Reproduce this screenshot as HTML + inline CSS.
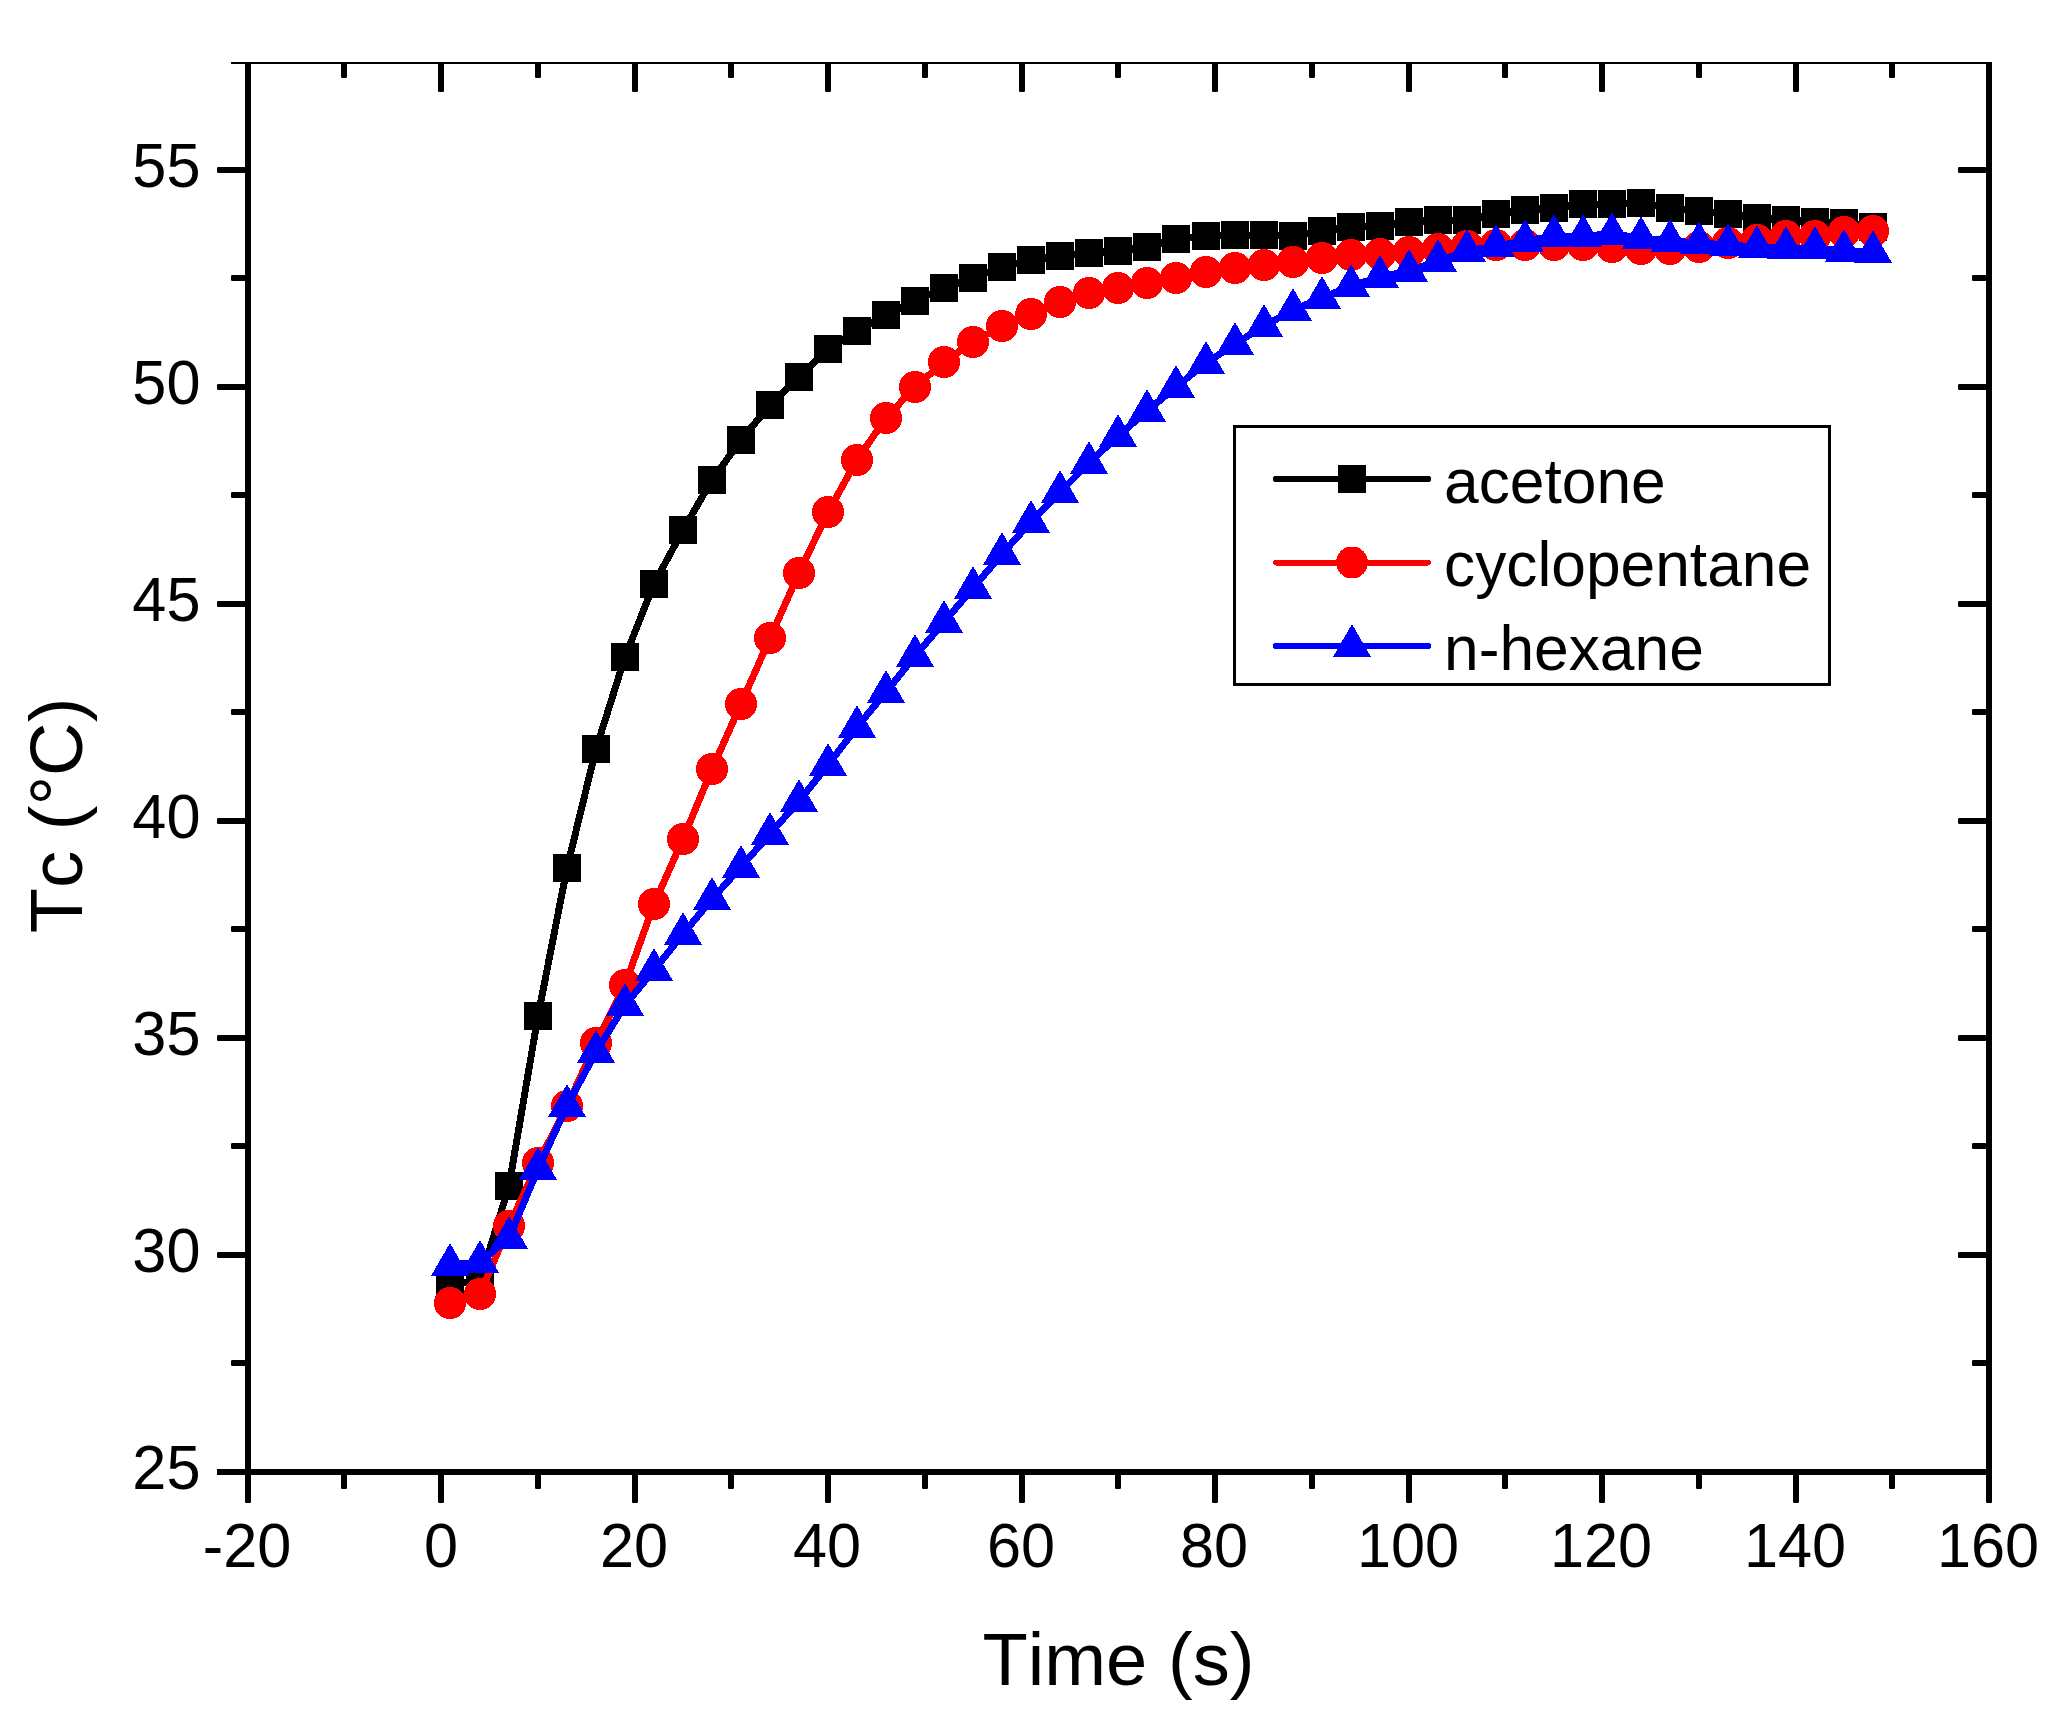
<!DOCTYPE html>
<html lang="en"><head><meta charset="utf-8"><title>Tc vs Time</title>
<style>
html,body{margin:0;padding:0;background:#fff;}
body{width:2064px;height:1720px;overflow:hidden;}
svg{display:block;}
text{font-family:"Liberation Sans",sans-serif;fill:#000;font-kerning:none;font-variant-ligatures:none;}
.tk{font-size:61.25px;}
.tt{font-size:74.2px;}
.lg{font-size:62.3px;}
</style></head><body>
<svg width="2064" height="1720" viewBox="0 0 2064 1720">
<rect x="0" y="0" width="2064" height="1720" fill="#fff"/>
<g shape-rendering="crispEdges">
<polyline fill="none" stroke="#000000" stroke-width="7" stroke-linejoin="round" stroke-linecap="round" points="450.0,1284.0 480.0,1281.0 509.0,1186.0 538.0,1016.0 567.0,868.0 596.0,749.0 625.0,657.0 654.0,584.0 683.0,530.0 712.0,480.0 741.0,440.0 770.0,405.0 799.0,377.0 828.0,349.0 857.0,331.0 886.0,315.0 915.0,301.0 944.0,288.0 973.0,278.0 1002.0,267.0 1031.0,260.0 1060.0,256.0 1089.0,253.0 1118.0,251.0 1147.0,247.0 1176.0,239.0 1206.0,236.0 1235.0,235.0 1264.0,235.0 1293.0,236.0 1322.0,231.0 1351.0,227.0 1380.0,226.0 1409.0,222.0 1438.0,220.0 1467.0,220.0 1496.0,214.0 1525.0,210.0 1554.0,208.0 1583.0,204.0 1612.0,204.0 1641.0,203.0 1670.0,208.0 1699.0,211.0 1728.0,214.0 1757.0,218.0 1786.0,220.0 1815.0,222.0 1844.0,223.0 1873.0,227.0"/>
<g fill="#000000">
<rect x="436.0" y="1270.0" width="28" height="28"/>
<rect x="466.0" y="1267.0" width="28" height="28"/>
<rect x="495.0" y="1172.0" width="28" height="28"/>
<rect x="524.0" y="1002.0" width="28" height="28"/>
<rect x="553.0" y="854.0" width="28" height="28"/>
<rect x="582.0" y="735.0" width="28" height="28"/>
<rect x="611.0" y="643.0" width="28" height="28"/>
<rect x="640.0" y="570.0" width="28" height="28"/>
<rect x="669.0" y="516.0" width="28" height="28"/>
<rect x="698.0" y="466.0" width="28" height="28"/>
<rect x="727.0" y="426.0" width="28" height="28"/>
<rect x="756.0" y="391.0" width="28" height="28"/>
<rect x="785.0" y="363.0" width="28" height="28"/>
<rect x="814.0" y="335.0" width="28" height="28"/>
<rect x="843.0" y="317.0" width="28" height="28"/>
<rect x="872.0" y="301.0" width="28" height="28"/>
<rect x="901.0" y="287.0" width="28" height="28"/>
<rect x="930.0" y="274.0" width="28" height="28"/>
<rect x="959.0" y="264.0" width="28" height="28"/>
<rect x="988.0" y="253.0" width="28" height="28"/>
<rect x="1017.0" y="246.0" width="28" height="28"/>
<rect x="1046.0" y="242.0" width="28" height="28"/>
<rect x="1075.0" y="239.0" width="28" height="28"/>
<rect x="1104.0" y="237.0" width="28" height="28"/>
<rect x="1133.0" y="233.0" width="28" height="28"/>
<rect x="1162.0" y="225.0" width="28" height="28"/>
<rect x="1192.0" y="222.0" width="28" height="28"/>
<rect x="1221.0" y="221.0" width="28" height="28"/>
<rect x="1250.0" y="221.0" width="28" height="28"/>
<rect x="1279.0" y="222.0" width="28" height="28"/>
<rect x="1308.0" y="217.0" width="28" height="28"/>
<rect x="1337.0" y="213.0" width="28" height="28"/>
<rect x="1366.0" y="212.0" width="28" height="28"/>
<rect x="1395.0" y="208.0" width="28" height="28"/>
<rect x="1424.0" y="206.0" width="28" height="28"/>
<rect x="1453.0" y="206.0" width="28" height="28"/>
<rect x="1482.0" y="200.0" width="28" height="28"/>
<rect x="1511.0" y="196.0" width="28" height="28"/>
<rect x="1540.0" y="194.0" width="28" height="28"/>
<rect x="1569.0" y="190.0" width="28" height="28"/>
<rect x="1598.0" y="190.0" width="28" height="28"/>
<rect x="1627.0" y="189.0" width="28" height="28"/>
<rect x="1656.0" y="194.0" width="28" height="28"/>
<rect x="1685.0" y="197.0" width="28" height="28"/>
<rect x="1714.0" y="200.0" width="28" height="28"/>
<rect x="1743.0" y="204.0" width="28" height="28"/>
<rect x="1772.0" y="206.0" width="28" height="28"/>
<rect x="1801.0" y="208.0" width="28" height="28"/>
<rect x="1830.0" y="209.0" width="28" height="28"/>
<rect x="1859.0" y="213.0" width="28" height="28"/>
</g></g>
<g shape-rendering="crispEdges">
<polyline fill="none" stroke="#ff0000" stroke-width="7" stroke-linejoin="round" stroke-linecap="round" points="450.0,1303.0 480.0,1294.0 509.0,1226.0 538.0,1163.0 567.0,1106.0 596.0,1043.0 625.0,985.0 654.0,904.0 683.0,839.0 712.0,769.0 741.0,704.0 770.0,638.0 799.0,573.0 828.0,512.0 857.0,460.0 886.0,418.0 915.0,387.0 944.0,362.0 973.0,342.0 1002.0,326.0 1031.0,314.0 1060.0,302.0 1089.0,293.0 1118.0,288.0 1147.0,283.0 1176.0,278.0 1206.0,272.0 1235.0,268.0 1264.0,265.0 1293.0,262.0 1322.0,258.0 1351.0,255.0 1380.0,254.0 1409.0,252.0 1438.0,249.0 1467.0,246.0 1496.0,245.0 1525.0,245.0 1554.0,245.0 1583.0,245.0 1612.0,247.0 1641.0,249.0 1670.0,249.0 1699.0,247.0 1728.0,243.0 1757.0,240.0 1786.0,236.0 1815.0,236.0 1844.0,232.0 1873.0,231.0"/>
<g fill="#ff0000">
<circle cx="450.0" cy="1303.0" r="16"/>
<circle cx="480.0" cy="1294.0" r="16"/>
<circle cx="509.0" cy="1226.0" r="16"/>
<circle cx="538.0" cy="1163.0" r="16"/>
<circle cx="567.0" cy="1106.0" r="16"/>
<circle cx="596.0" cy="1043.0" r="16"/>
<circle cx="625.0" cy="985.0" r="16"/>
<circle cx="654.0" cy="904.0" r="16"/>
<circle cx="683.0" cy="839.0" r="16"/>
<circle cx="712.0" cy="769.0" r="16"/>
<circle cx="741.0" cy="704.0" r="16"/>
<circle cx="770.0" cy="638.0" r="16"/>
<circle cx="799.0" cy="573.0" r="16"/>
<circle cx="828.0" cy="512.0" r="16"/>
<circle cx="857.0" cy="460.0" r="16"/>
<circle cx="886.0" cy="418.0" r="16"/>
<circle cx="915.0" cy="387.0" r="16"/>
<circle cx="944.0" cy="362.0" r="16"/>
<circle cx="973.0" cy="342.0" r="16"/>
<circle cx="1002.0" cy="326.0" r="16"/>
<circle cx="1031.0" cy="314.0" r="16"/>
<circle cx="1060.0" cy="302.0" r="16"/>
<circle cx="1089.0" cy="293.0" r="16"/>
<circle cx="1118.0" cy="288.0" r="16"/>
<circle cx="1147.0" cy="283.0" r="16"/>
<circle cx="1176.0" cy="278.0" r="16"/>
<circle cx="1206.0" cy="272.0" r="16"/>
<circle cx="1235.0" cy="268.0" r="16"/>
<circle cx="1264.0" cy="265.0" r="16"/>
<circle cx="1293.0" cy="262.0" r="16"/>
<circle cx="1322.0" cy="258.0" r="16"/>
<circle cx="1351.0" cy="255.0" r="16"/>
<circle cx="1380.0" cy="254.0" r="16"/>
<circle cx="1409.0" cy="252.0" r="16"/>
<circle cx="1438.0" cy="249.0" r="16"/>
<circle cx="1467.0" cy="246.0" r="16"/>
<circle cx="1496.0" cy="245.0" r="16"/>
<circle cx="1525.0" cy="245.0" r="16"/>
<circle cx="1554.0" cy="245.0" r="16"/>
<circle cx="1583.0" cy="245.0" r="16"/>
<circle cx="1612.0" cy="247.0" r="16"/>
<circle cx="1641.0" cy="249.0" r="16"/>
<circle cx="1670.0" cy="249.0" r="16"/>
<circle cx="1699.0" cy="247.0" r="16"/>
<circle cx="1728.0" cy="243.0" r="16"/>
<circle cx="1757.0" cy="240.0" r="16"/>
<circle cx="1786.0" cy="236.0" r="16"/>
<circle cx="1815.0" cy="236.0" r="16"/>
<circle cx="1844.0" cy="232.0" r="16"/>
<circle cx="1873.0" cy="231.0" r="16"/>
</g></g>
<g shape-rendering="crispEdges">
<polyline fill="none" stroke="#0000ff" stroke-width="7" stroke-linejoin="round" stroke-linecap="round" points="450.0,1265.0 480.0,1262.0 509.0,1238.0 538.0,1169.0 567.0,1106.0 596.0,1052.0 625.0,1005.0 654.0,970.0 683.0,934.0 712.0,899.0 741.0,867.0 770.0,834.0 799.0,801.0 828.0,765.0 857.0,727.0 886.0,692.0 915.0,656.0 944.0,622.0 973.0,588.0 1002.0,554.0 1031.0,522.0 1060.0,492.0 1089.0,463.0 1118.0,436.0 1147.0,411.0 1176.0,387.0 1206.0,363.0 1235.0,344.0 1264.0,326.0 1293.0,310.0 1322.0,298.0 1351.0,286.0 1380.0,277.0 1409.0,271.0 1438.0,261.0 1467.0,251.0 1496.0,246.0 1525.0,241.0 1554.0,236.0 1583.0,236.0 1612.0,234.0 1641.0,238.0 1670.0,241.0 1699.0,243.0 1728.0,245.0 1757.0,247.0 1786.0,248.0 1815.0,248.0 1844.0,251.0 1873.0,252.0"/>
<g fill="#0000ff">
<polygon points="450.0,1243.0 469.0,1276.0 431.0,1276.0"/>
<polygon points="480.0,1240.0 499.0,1273.0 461.0,1273.0"/>
<polygon points="509.0,1216.0 528.0,1249.0 490.0,1249.0"/>
<polygon points="538.0,1147.0 557.0,1180.0 519.0,1180.0"/>
<polygon points="567.0,1084.0 586.0,1117.0 548.0,1117.0"/>
<polygon points="596.0,1030.0 615.0,1063.0 577.0,1063.0"/>
<polygon points="625.0,983.0 644.0,1016.0 606.0,1016.0"/>
<polygon points="654.0,948.0 673.0,981.0 635.0,981.0"/>
<polygon points="683.0,912.0 702.0,945.0 664.0,945.0"/>
<polygon points="712.0,877.0 731.0,910.0 693.0,910.0"/>
<polygon points="741.0,845.0 760.0,878.0 722.0,878.0"/>
<polygon points="770.0,812.0 789.0,845.0 751.0,845.0"/>
<polygon points="799.0,779.0 818.0,812.0 780.0,812.0"/>
<polygon points="828.0,743.0 847.0,776.0 809.0,776.0"/>
<polygon points="857.0,705.0 876.0,738.0 838.0,738.0"/>
<polygon points="886.0,670.0 905.0,703.0 867.0,703.0"/>
<polygon points="915.0,634.0 934.0,667.0 896.0,667.0"/>
<polygon points="944.0,600.0 963.0,633.0 925.0,633.0"/>
<polygon points="973.0,566.0 992.0,599.0 954.0,599.0"/>
<polygon points="1002.0,532.0 1021.0,565.0 983.0,565.0"/>
<polygon points="1031.0,500.0 1050.0,533.0 1012.0,533.0"/>
<polygon points="1060.0,470.0 1079.0,503.0 1041.0,503.0"/>
<polygon points="1089.0,441.0 1108.0,474.0 1070.0,474.0"/>
<polygon points="1118.0,414.0 1137.0,447.0 1099.0,447.0"/>
<polygon points="1147.0,389.0 1166.0,422.0 1128.0,422.0"/>
<polygon points="1176.0,365.0 1195.0,398.0 1157.0,398.0"/>
<polygon points="1206.0,341.0 1225.0,374.0 1187.0,374.0"/>
<polygon points="1235.0,322.0 1254.0,355.0 1216.0,355.0"/>
<polygon points="1264.0,304.0 1283.0,337.0 1245.0,337.0"/>
<polygon points="1293.0,288.0 1312.0,321.0 1274.0,321.0"/>
<polygon points="1322.0,276.0 1341.0,309.0 1303.0,309.0"/>
<polygon points="1351.0,264.0 1370.0,297.0 1332.0,297.0"/>
<polygon points="1380.0,255.0 1399.0,288.0 1361.0,288.0"/>
<polygon points="1409.0,249.0 1428.0,282.0 1390.0,282.0"/>
<polygon points="1438.0,239.0 1457.0,272.0 1419.0,272.0"/>
<polygon points="1467.0,229.0 1486.0,262.0 1448.0,262.0"/>
<polygon points="1496.0,224.0 1515.0,257.0 1477.0,257.0"/>
<polygon points="1525.0,219.0 1544.0,252.0 1506.0,252.0"/>
<polygon points="1554.0,214.0 1573.0,247.0 1535.0,247.0"/>
<polygon points="1583.0,214.0 1602.0,247.0 1564.0,247.0"/>
<polygon points="1612.0,212.0 1631.0,245.0 1593.0,245.0"/>
<polygon points="1641.0,216.0 1660.0,249.0 1622.0,249.0"/>
<polygon points="1670.0,219.0 1689.0,252.0 1651.0,252.0"/>
<polygon points="1699.0,221.0 1718.0,254.0 1680.0,254.0"/>
<polygon points="1728.0,223.0 1747.0,256.0 1709.0,256.0"/>
<polygon points="1757.0,225.0 1776.0,258.0 1738.0,258.0"/>
<polygon points="1786.0,226.0 1805.0,259.0 1767.0,259.0"/>
<polygon points="1815.0,226.0 1834.0,259.0 1796.0,259.0"/>
<polygon points="1844.0,229.0 1863.0,262.0 1825.0,262.0"/>
<polygon points="1873.0,230.0 1892.0,263.0 1854.0,263.0"/>
</g></g>
<g fill="#000">
<rect x="245" y="1470" width="6" height="33" rx="1.3"/>
<rect x="341" y="1470" width="6" height="19" rx="1.3"/>
<rect x="341" y="61" width="6" height="17" rx="1.3"/>
<rect x="438" y="1470" width="6" height="33" rx="1.3"/>
<rect x="438" y="61" width="6" height="31" rx="1.3"/>
<rect x="535" y="1470" width="6" height="19" rx="1.3"/>
<rect x="535" y="61" width="6" height="17" rx="1.3"/>
<rect x="632" y="1470" width="6" height="33" rx="1.3"/>
<rect x="632" y="61" width="6" height="31" rx="1.3"/>
<rect x="728" y="1470" width="6" height="19" rx="1.3"/>
<rect x="728" y="61" width="6" height="17" rx="1.3"/>
<rect x="825" y="1470" width="6" height="33" rx="1.3"/>
<rect x="825" y="61" width="6" height="31" rx="1.3"/>
<rect x="922" y="1470" width="6" height="19" rx="1.3"/>
<rect x="922" y="61" width="6" height="17" rx="1.3"/>
<rect x="1019" y="1470" width="6" height="33" rx="1.3"/>
<rect x="1019" y="61" width="6" height="31" rx="1.3"/>
<rect x="1115" y="1470" width="6" height="19" rx="1.3"/>
<rect x="1115" y="61" width="6" height="17" rx="1.3"/>
<rect x="1212" y="1470" width="6" height="33" rx="1.3"/>
<rect x="1212" y="61" width="6" height="31" rx="1.3"/>
<rect x="1309" y="1470" width="6" height="19" rx="1.3"/>
<rect x="1309" y="61" width="6" height="17" rx="1.3"/>
<rect x="1406" y="1470" width="6" height="33" rx="1.3"/>
<rect x="1406" y="61" width="6" height="31" rx="1.3"/>
<rect x="1502" y="1470" width="6" height="19" rx="1.3"/>
<rect x="1502" y="61" width="6" height="17" rx="1.3"/>
<rect x="1599" y="1470" width="6" height="33" rx="1.3"/>
<rect x="1599" y="61" width="6" height="31" rx="1.3"/>
<rect x="1696" y="1470" width="6" height="19" rx="1.3"/>
<rect x="1696" y="61" width="6" height="17" rx="1.3"/>
<rect x="1793" y="1470" width="6" height="33" rx="1.3"/>
<rect x="1793" y="61" width="6" height="31" rx="1.3"/>
<rect x="1889" y="1470" width="6" height="19" rx="1.3"/>
<rect x="1889" y="61" width="6" height="17" rx="1.3"/>
<rect x="1986" y="1470" width="6" height="33" rx="1.3"/>
<rect x="231" y="1360" width="17" height="6" rx="1.3"/>
<rect x="1972" y="1360" width="17" height="6" rx="1.3"/>
<rect x="217" y="1252" width="31" height="6" rx="1.3"/>
<rect x="1958" y="1252" width="31" height="6" rx="1.3"/>
<rect x="231" y="1143" width="17" height="6" rx="1.3"/>
<rect x="1972" y="1143" width="17" height="6" rx="1.3"/>
<rect x="217" y="1035" width="31" height="6" rx="1.3"/>
<rect x="1958" y="1035" width="31" height="6" rx="1.3"/>
<rect x="231" y="926" width="17" height="6" rx="1.3"/>
<rect x="1972" y="926" width="17" height="6" rx="1.3"/>
<rect x="217" y="818" width="31" height="6" rx="1.3"/>
<rect x="1958" y="818" width="31" height="6" rx="1.3"/>
<rect x="231" y="709" width="17" height="6" rx="1.3"/>
<rect x="1972" y="709" width="17" height="6" rx="1.3"/>
<rect x="217" y="601" width="31" height="6" rx="1.3"/>
<rect x="1958" y="601" width="31" height="6" rx="1.3"/>
<rect x="231" y="492" width="17" height="6" rx="1.3"/>
<rect x="1972" y="492" width="17" height="6" rx="1.3"/>
<rect x="217" y="384" width="31" height="6" rx="1.3"/>
<rect x="1958" y="384" width="31" height="6" rx="1.3"/>
<rect x="231" y="275" width="17" height="6" rx="1.3"/>
<rect x="1972" y="275" width="17" height="6" rx="1.3"/>
<rect x="217" y="167" width="31" height="6" rx="1.3"/>
<rect x="1958" y="167" width="31" height="6" rx="1.3"/>
</g>
<g fill="#000" shape-rendering="crispEdges">
<rect x="231" y="62" width="1761" height="2"/>
<rect x="245" y="62" width="6" height="1413"/>
<rect x="1986" y="62" width="6" height="1413"/>
<rect x="220" y="1469" width="1772" height="6"/>
<rect x="217" y="1469" width="10" height="6" rx="1.3"/>
</g>
<rect x="200" y="50" width="1820" height="12" fill="#fff"/>
<g class="tk" text-anchor="middle">
<text transform="translate(247.0,1567) scale(1,1.035)">-20</text>
<text transform="translate(441.0,1567) scale(1,1.035)">0</text>
<text transform="translate(634.0,1567) scale(1,1.035)">20</text>
<text transform="translate(827.0,1567) scale(1,1.035)">40</text>
<text transform="translate(1021.0,1567) scale(1,1.035)">60</text>
<text transform="translate(1214.0,1567) scale(1,1.035)">80</text>
<text transform="translate(1408.0,1567) scale(1,1.035)">100</text>
<text transform="translate(1601.0,1567) scale(1,1.035)">120</text>
<text transform="translate(1795.0,1567) scale(1,1.035)">140</text>
<text transform="translate(1988.0,1567) scale(1,1.035)">160</text>
</g>
<g class="tk" text-anchor="end">
<text transform="translate(200.5,1488.9) scale(1,1.035)">25</text>
<text transform="translate(200.5,1271.9) scale(1,1.035)">30</text>
<text transform="translate(200.5,1054.9) scale(1,1.035)">35</text>
<text transform="translate(200.5,837.9) scale(1,1.035)">40</text>
<text transform="translate(200.5,620.9) scale(1,1.035)">45</text>
<text transform="translate(200.5,403.9) scale(1,1.035)">50</text>
<text transform="translate(200.5,186.9) scale(1,1.035)">55</text>
</g>
<text class="tt" text-anchor="middle" x="1118.5" y="1685">Time (s)</text>
<text class="tt" text-anchor="middle" transform="translate(82,815.5) rotate(-90)">Tc (°C)</text>
<rect x="1234.5" y="426.5" width="595" height="258" fill="#fff" stroke="#000" stroke-width="3" shape-rendering="crispEdges"/>
<g stroke-width="6" stroke-linecap="round" shape-rendering="crispEdges">
<line x1="1276" y1="479" x2="1428" y2="479" stroke="#000"/>
<line x1="1276" y1="562.5" x2="1428" y2="562.5" stroke="#f00"/>
<line x1="1276" y1="646" x2="1428" y2="646" stroke="#00f"/>
</g>
<g shape-rendering="crispEdges">
<rect x="1338" y="465" width="28" height="28" fill="#000"/>
<circle cx="1352" cy="562.5" r="16" fill="#f00"/>
<polygon points="1352,624 1371,657 1333,657" fill="#00f"/>
</g>
<g class="lg">
<text x="1444" y="502.5">acetone</text>
<text x="1444" y="586">cyclopentane</text>
<text x="1444" y="669.5">n-hexane</text>
</g>
</svg>
</body></html>
